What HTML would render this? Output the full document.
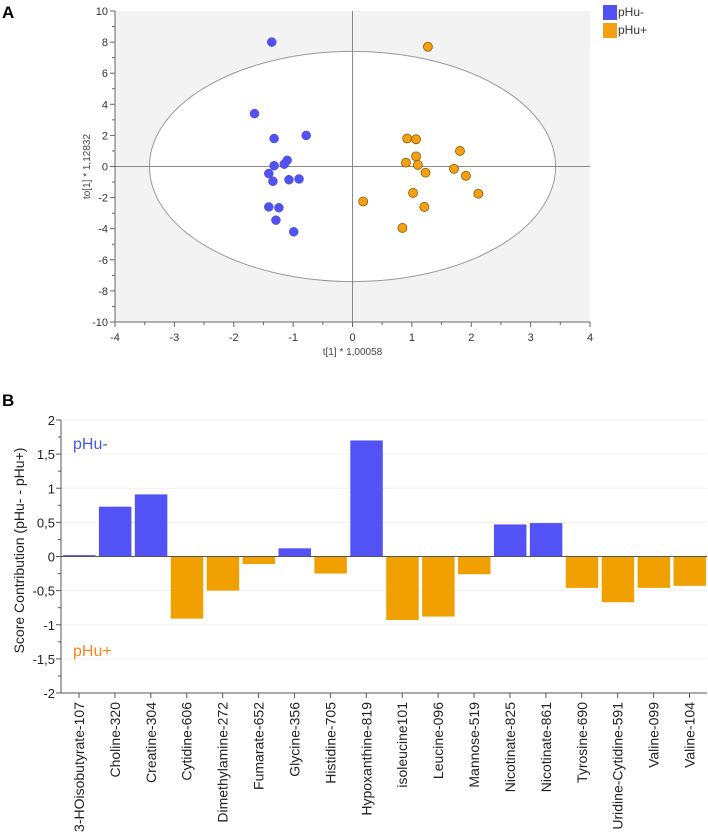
<!DOCTYPE html>
<html><head><meta charset="utf-8"><style>
body{margin:0;background:#fff;width:708px;height:834px;overflow:hidden;font-family:"Liberation Sans",sans-serif}
svg text{font-family:"Liberation Sans",sans-serif}
</style></head><body>
<svg id="s" width="708" height="834">
<text x="2" y="18" font-size="17" font-weight="bold">A</text>
<text x="2" y="406" font-size="17" font-weight="bold">B</text>
<g id="a"></g>
<g id="b"></g>
</svg>
<script>
const NS='http://www.w3.org/2000/svg';
function mk(p,t,a){const e=document.createElementNS(NS,t);for(const k in a)e.setAttribute(k,a[k]);p.appendChild(e);return e;}
// ---------- Scatter data ----------
const blueX=[-1.36,-1.65,-1.32,-0.78,-1.1,-1.15,-1.32,-1.41,-1.34,-1.07,-0.9,-1.41,-1.24,-1.29,-0.99];
const blueY=[8,3.4,1.8,2,0.4,0.15,0.05,-0.45,-0.95,-0.85,-0.8,-2.6,-2.65,-3.45,-4.2];
const orangeX=[1.27,0.92,1.07,1.07,1.81,0.9,1.1,1.23,1.71,1.91,1.02,2.12,0.18,1.21,0.84];
const orangeY=[7.7,1.8,1.75,0.65,1,0.25,0.1,-0.4,-0.15,-0.6,-1.7,-1.75,-2.25,-2.6,-3.95];
const xTicks=[-4,-3,-2,-1,0,1,2,3,4];
const yTicks=[10,8,6,4,2,0,-2,-4,-6,-8,-10];
// ---------- Bar data ----------
const cats=["3-HOisobutyrate-107","Choline-320","Creatine-304","Cytidine-606","Dimethylamine-272","Fumarate-652","Glycine-356","Histidine-705","Hypoxanthine-819","isoleucine101","Leucine-096","Mannose-519","Nicotinate-825","Nicotinate-861","Tyrosine-690","Uridine-Cytidine-591","Valine-099","Valine-104"];
const vals=[0.02,0.73,0.91,-0.91,-0.5,-0.11,0.12,-0.25,1.7,-0.93,-0.88,-0.26,0.47,0.49,-0.46,-0.67,-0.46,-0.43];
const bTicks=[2,1.5,1,0.5,0,-0.5,-1,-1.5,-2];
const bTickLabels=["2","1,5","1","0,5","0","-0,5","-1","-1,5","-2"];

// Panel A
const A=document.getElementById('a');
const X0=115,X1=590,Y0=322,Y1=11;
const sx=v=>X0+(v+4)/8*(X1-X0), sy=v=>Y0-(v+10)/20*(Y0-Y1);
let r=mk(A,'rect',{x:X0,y:Y1,width:X1-X0,height:Y0-Y1,fill:'#f3f3f3'});

let el=mk(A,'ellipse',{cx:sx(0),cy:sy(0),rx:sx(3.42)-sx(0),ry:sy(0)-sy(7.4),fill:'#fff',stroke:'#999','stroke-width':1});

mk(A,'line',{x1:X0,x2:X1,y1:sy(0),y2:sy(0),stroke:'#888'});
mk(A,'line',{x1:sx(0),x2:sx(0),y1:Y1,y2:Y0,stroke:'#888'});
mk(A,'line',{x1:X0,x2:X0,y1:Y1,y2:Y0,stroke:'#666'});
mk(A,'line',{x1:X0,x2:X1,y1:Y0,y2:Y0,stroke:'#666'});
xTicks.forEach(t=>{mk(A,'line',{x1:sx(t),x2:sx(t),y1:Y0,y2:Y0+5,stroke:'#666'});
 if(t<4)mk(A,'line',{x1:sx(t+0.5),x2:sx(t+0.5),y1:Y0,y2:Y0+3,stroke:'#666'});
 const tx=mk(A,'text',{x:sx(t),y:Y0+19,'font-size':11,'text-anchor':'middle',fill:'#333'});tx.textContent=t;
 });
yTicks.forEach(t=>{mk(A,'line',{x1:X0-5,x2:X0,y1:sy(t),y2:sy(t),stroke:'#666'});
 if(t>-10)mk(A,'line',{x1:X0-3,x2:X0,y1:sy(t-1),y2:sy(t-1),stroke:'#666'});
 const tx=mk(A,'text',{x:X0-7,y:sy(t)+4,'font-size':11,'text-anchor':'end',fill:'#333'});tx.textContent=t;
 });
let t1=mk(A,'text',{x:sx(0),y:355,'font-size':10,'text-anchor':'middle',fill:'#444'});t1.textContent='t[1] * 1,00058';

let t2=mk(A,'text',{x:0,y:0,'font-size':10,'text-anchor':'middle',fill:'#444',transform:`translate(90,${sy(0)}) rotate(-90)`});t2.textContent='to[1] * 1,12832';

blueX.forEach((v,i)=>{const c=mk(A,'circle',{cx:sx(v),cy:sy(blueY[i]),r:4.5,fill:'#5252f0',stroke:'#4848d8','stroke-width':0.5});
 });
orangeX.forEach((v,i)=>{const c=mk(A,'circle',{cx:sx(v),cy:sy(orangeY[i]),r:4.5,fill:'#f5a012',stroke:'#8a5a00','stroke-width':0.8});
 });
let lg=mk(A,'g',{});
mk(lg,'rect',{x:603,y:5,width:14,height:15,fill:'#5252f0'});
mk(lg,'rect',{x:603,y:23,width:14,height:15,fill:'#f5a012'});
let l1=mk(lg,'text',{x:618,y:16,'font-size':12,fill:'#333'});l1.textContent='pHu-';
let l2=mk(lg,'text',{x:618,y:34,'font-size':12,fill:'#333'});l2.textContent='pHu+';

// Panel B
const B=document.getElementById('b');
const BX0=61,BX1=707,BT=420,BB=693;
const by=v=>BT+(2-v)/4*(BB-BT);
const bx=i=>79+i*(689.5-79)/17;
bTicks.forEach(t=>{if(t!==0)mk(B,'line',{x1:BX0,x2:BX1,y1:by(t),y2:by(t),stroke:'#f0f0f0'});});
vals.forEach((v,i)=>{const y=Math.min(by(v),by(0)),h=Math.abs(by(v)-by(0));
 const rr=mk(B,'rect',{x:bx(i)-16,y:y,width:32.5,height:Math.max(h,1),fill:v>=0?'#5353f5':'#f0a000'});
 });
mk(B,'line',{x1:BX0,x2:BX1,y1:by(0),y2:by(0),stroke:'#555'});
mk(B,'line',{x1:BX0,x2:BX0,y1:BT,y2:BB,stroke:'#555'});
mk(B,'line',{x1:BX0,x2:BX1,y1:BB,y2:BB,stroke:'#555'});
bTicks.forEach((t,i)=>{mk(B,'line',{x1:BX0-5,x2:BX0,y1:by(t),y2:by(t),stroke:'#555'});
 if(t>-2)mk(B,'line',{x1:BX0-3,x2:BX0,y1:by(t-0.25),y2:by(t-0.25),stroke:'#555'});
 const tx=mk(B,'text',{x:BX0-6,y:by(t)+5,'font-size':13,'text-anchor':'end',fill:'#222'});tx.textContent=bTickLabels[i];
 });
cats.forEach((c,i)=>{mk(B,'line',{x1:bx(i),x2:bx(i),y1:BB,y2:BB+5,stroke:'#555'});
 const tx=mk(B,'text',{x:0,y:0,'font-size':14,'text-anchor':'end',fill:'#222',transform:`translate(${bx(i)+5},${BB+9}) rotate(-90)`});tx.textContent=c;
 });
let yt=mk(B,'text',{x:0,y:0,'font-size':14,'text-anchor':'middle',fill:'#222',transform:`translate(24,${by(0)-6}) rotate(-90)`});yt.textContent='Score Contribution (pHu- - pHu+)';

let a1=mk(B,'text',{x:73,y:449,'font-size':16,fill:'#4a5ad8'});a1.textContent='pHu-';

let a2=mk(B,'text',{x:73,y:656,'font-size':16,fill:'#f08a20'});a2.textContent='pHu+';

</script>
</body></html>
